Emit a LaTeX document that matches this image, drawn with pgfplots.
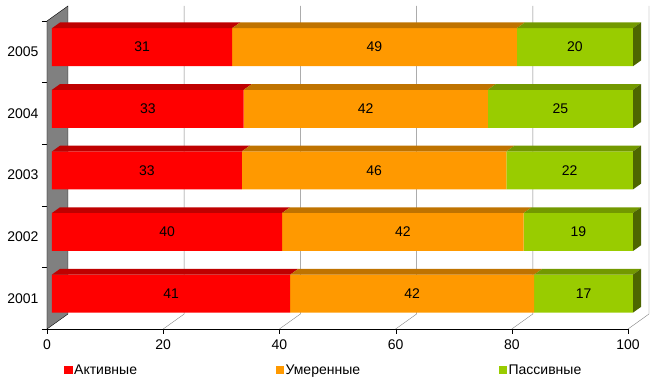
\documentclass[border=0pt]{standalone}
\usepackage{fontspec}
\setmainfont{Liberation Sans}
\usepackage{pgfplots}
\pgfplotsset{compat=1.18}
\definecolor{cR}{HTML}{FF0000}
\definecolor{cRt}{HTML}{BF0000}
\definecolor{cO}{HTML}{FF9900}
\definecolor{cOt}{HTML}{BF7300}
\definecolor{cG}{HTML}{99CC00}
\definecolor{cGt}{HTML}{739900}
\definecolor{cGs}{HTML}{4D6600}
\definecolor{wall}{HTML}{808080}
\newcommand\ff{\fontsize{14}{16}\selectfont}
\pgfplotsset{base/.style={scale only axis, width=581pt, height=308pt,
  xmin=0, xmax=100, ymin=0.5, ymax=5.5, clip=false, at={(0,0)}, anchor=south west}}
% top face of a bar segment: x0, x1, ytop, colour
\newcommand\topf[4]{%
  \pgfmathsetmacro\fxa{#1+1.377}%
  \pgfmathsetmacro\fxb{#2+1.377}%
  \pgfmathsetmacro\fyb{#3+0.0925}%
  \edef\next{\noexpand\addplot[fill=#4,draw=none,forget plot] coordinates {(#1,#3) (#2,#3) (\fxb,\fyb) (\fxa,\fyb)};}%
  \next}
% right side face: x1, ybottom, ytop, colour
\newcommand\sidef[4]{%
  \pgfmathsetmacro\fxb{#1+1.377}%
  \pgfmathsetmacro\fya{#2+0.0925}%
  \pgfmathsetmacro\fyb{#3+0.0925}%
  \edef\next{\noexpand\addplot[fill=#4,draw=none,forget plot] coordinates {(#1,#2) (#1,#3) (\fxb,\fyb) (\fxb,\fya)};}%
  \next}
\begin{document}
\begin{tikzpicture}
% ---------- back: walls, grid, axes ----------
\begin{axis}[base, name=A,
  axis x line*=bottom, axis y line*=left, axis line style={black,-},
  xtick={0,20,40,60,80,100},
  ytick={1,2,3,4,5}, yticklabels={2001,2002,2003,2004,2005},
  tick align=outside, major tick length=5pt, minor tick length=5pt,
  every major y tick/.append style={draw=none},
  minor ytick={0.5,1.5,2.5,3.5,4.5,5.5},
  every tick/.append style={black},
  tick label style={font=\ff},
  xticklabel style={yshift=-2pt},
  /pgf/number format/assume math mode=true]
\addplot[fill=wall, draw=black, forget plot] coordinates {(0,0.5) (0,5.5) (3.614,5.7435) (3.614,0.7435) (0,0.5)};
\addplot[wall, forget plot] coordinates {(20,0.5) (23.614,0.7435) (23.614,5.7435)};
\addplot[wall, forget plot] coordinates {(40,0.5) (43.614,0.7435) (43.614,5.7435)};
\addplot[wall, forget plot] coordinates {(60,0.5) (63.614,0.7435) (63.614,5.7435)};
\addplot[wall, forget plot] coordinates {(80,0.5) (83.614,0.7435) (83.614,5.7435)};
\addplot[wall, forget plot] coordinates {(100,0.5) (103.614,0.7435) (103.614,5.7435)};
\end{axis}
% ---------- bars (100% stacked, front faces) ----------
\begin{axis}[base, hide axis, xbar stacked, bar width=38pt, bar shift=4.6pt,
  legend style={at={(0,0)}, anchor=west, xshift=14pt, yshift=-41pt,
    draw=none, fill=none, legend columns=3, font=\ff,
    nodes={inner sep=1.5pt},
    /tikz/every even column/.append style={column sep=137pt}},
  legend cell align=left,
  legend image code/.code={\fill[#1] (0pt,-4.5pt) rectangle (8.5pt,4pt);}]
\addplot[draw=none, fill=none, forget plot] coordinates {(0.86,1) (0.86,2) (0.86,3) (0.86,4) (0.86,5)};
\addplot[draw=none, fill=cR] coordinates {(41,1) (39.60,2) (32.67,3) (33,4) (31,5)};
\addplot[draw=none, fill=cO] coordinates {(42,1) (41.58,2) (45.54,3) (42,4) (49,5)};
\addplot[draw=none, fill=cG] coordinates {(17,1) (18.81,2) (21.78,3) (25,4) (20,5)};
\legend{Активные,Умеренные,Пассивные}
\end{axis}
% ---------- 3D faces and value labels ----------
\begin{axis}[base, hide axis]
% 2005 (top y = 5.3831)
\topf{0.86}{31.86}{5.3831}{cRt}\topf{31.86}{80.86}{5.3831}{cOt}\topf{80.86}{100.86}{5.3831}{cGt}
\sidef{100.86}{4.7663}{5.3831}{cGs}
% 2004
\topf{0.86}{33.86}{4.3831}{cRt}\topf{33.86}{75.86}{4.3831}{cOt}\topf{75.86}{100.86}{4.3831}{cGt}
\sidef{100.86}{3.7663}{4.3831}{cGs}
% 2003
\topf{0.86}{33.53}{3.3831}{cRt}\topf{33.53}{79.07}{3.3831}{cOt}\topf{79.07}{100.86}{3.3831}{cGt}
\sidef{100.86}{2.7663}{3.3831}{cGs}
% 2002
\topf{0.86}{40.46}{2.3831}{cRt}\topf{40.46}{82.04}{2.3831}{cOt}\topf{82.04}{100.86}{2.3831}{cGt}
\sidef{100.86}{1.7663}{2.3831}{cGs}
% 2001
\topf{0.86}{41.86}{1.3831}{cRt}\topf{41.86}{83.86}{1.3831}{cOt}\topf{83.86}{100.86}{1.3831}{cGt}
\sidef{100.86}{0.7663}{1.3831}{cGs}
\addplot[only marks, mark size=0pt, nodes near coords, point meta=explicit symbolic,
  every node near coord/.append style={anchor=center, font=\ff, text=black}]
  coordinates {
  (16.36,5.075)[31] (56.36,5.075)[49] (90.86,5.075)[20]
  (17.36,4.075)[33] (54.86,4.075)[42] (88.36,4.075)[25]
  (17.20,3.075)[33] (56.30,3.075)[46] (89.97,3.075)[22]
  (20.66,2.075)[40] (61.25,2.075)[42] (91.45,2.075)[19]
  (21.36,1.075)[41] (62.86,1.075)[42] (92.36,1.075)[17]};
\end{axis}
\pgfresetboundingbox
\path[use as bounding box] ([shift={(-47pt,-53pt)}]A.south west) rectangle ([shift={(608pt,329pt)}]A.south west);
\end{tikzpicture}
\end{document}
